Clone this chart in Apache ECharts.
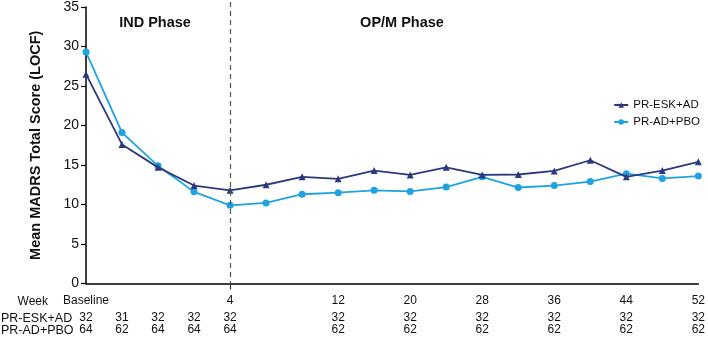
<!DOCTYPE html>
<html>
<head>
<meta charset="utf-8">
<script src="https://cdn.jsdelivr.net/npm/echarts@6/dist/echarts.min.js"></script>
<style>
html,body{margin:0;padding:0;background:#fff;}
#chart{width:708px;height:337px;}
</style>
</head>
<body>
<div id="chart"></div>
<script>
// Visit labels along the x axis (empty = unlabeled visit)
const weekLabels = ['Baseline','','','','4','','','12','','20','','28','','36','','44','','52'];
// Number of patients at each visit
const nEskAd = ['32','31','32','32','32','','','32','','32','','32','','32','','32','','32'];
const nAdPbo = ['64','62','64','64','64','','','62','','62','','62','','62','','62','','62'];
// Mean MADRS total score (LOCF)
const eskAd = [26.5, 17.6, 14.7, 12.4, 11.8, 12.5, 13.5, 13.25, 14.3, 13.75, 14.7, 13.75, 13.8, 14.25, 15.6, 13.5, 14.3, 15.4];
const adPbo = [29.3, 19.1, 14.9, 11.6, 9.9, 10.2, 11.3, 11.5, 11.8, 11.65, 12.2, 13.5, 12.15, 12.4, 12.9, 13.9, 13.3, 13.6];
const seriesNames = ['PR-ESK+AD', 'PR-AD+PBO'];
const yTicks = {min: 0, max: 35, interval: 5};
const phaseBoundaryIndex = 4;

const FONT = 'Liberation Sans, Arial, sans-serif';
const keys = weekLabels.map((_, i) => String(i));

function tableAxis(labels, offset) {
  return {
    type: 'category', data: keys, boundaryGap: false, position: 'bottom', offset: offset,
    axisLine: {show: false}, axisTick: {show: false}, splitLine: {show: false},
    axisLabel: {interval: 0, margin: 11, color: '#111', fontSize: 12, fontFamily: FONT,
      formatter: (v, i) => labels[i]}
  };
}

const chart = echarts.init(document.getElementById('chart'), null, {renderer: 'canvas'});
chart.setOption({
  animation: false,
  backgroundColor: '#fff',
  textStyle: {fontFamily: FONT},
  grid: {left: 86, right: 7, top: 5, bottom: 53.5, containLabel: false},
  legend: {
    orient: 'vertical', right: 8, top: 99, padding: 0, itemGap: 5, itemWidth: 14, itemHeight: 7,
    textStyle: {fontSize: 11.5, color: '#111', fontFamily: FONT},
    data: seriesNames
  },
  xAxis: [
    {
      type: 'category', data: keys, boundaryGap: false,
      axisLine: {show: true, lineStyle: {color: '#000', width: 1.5}},
      axisTick: {show: true, length: 6, interval: (i) => i === phaseBoundaryIndex,
        lineStyle: {color: '#333', width: 1.2}},
      splitLine: {show: false},
      axisLabel: {interval: 0, margin: 11, color: '#111', fontSize: 12, fontFamily: FONT,
        formatter: (v, i) => weekLabels[i]}
    },
    tableAxis(nEskAd, 17),
    tableAxis(nAdPbo, 29)
  ],
  yAxis: {
    type: 'value', min: yTicks.min, max: yTicks.max, interval: yTicks.interval,
    name: 'Mean MADRS Total Score (LOCF)', nameLocation: 'middle', nameGap: 43,
    nameTextStyle: {fontSize: 14.5, fontWeight: 'bold', color: '#111', fontFamily: FONT},
    axisLine: {show: true, lineStyle: {color: '#000', width: 1.5}},
    axisTick: {show: true, length: 5, lineStyle: {color: '#000', width: 1.2}},
    splitLine: {show: false},
    axisLabel: {fontSize: 14, color: '#111', margin: 7, fontFamily: FONT}
  },
  graphic: [
    {type: 'text', x: 48, y: 302, style: {text: 'Week', fill: '#111', font: '12px ' + FONT, textAlign: 'right', textVerticalAlign: 'middle'}},
    {type: 'text', x: 1, y: 319, style: {text: 'PR-ESK+AD', fill: '#111', font: '12.5px ' + FONT, textAlign: 'left', textVerticalAlign: 'middle'}},
    {type: 'text', x: 1, y: 331, style: {text: 'PR-AD+PBO', fill: '#111', font: '12.5px ' + FONT, textAlign: 'left', textVerticalAlign: 'middle'}},
    {type: 'text', x: 155, y: 23, style: {text: 'IND Phase', fill: '#111', font: 'bold 14.5px ' + FONT, textAlign: 'center', textVerticalAlign: 'middle'}},
    {type: 'text', x: 402, y: 23, style: {text: 'OP/M Phase', fill: '#111', font: 'bold 14.5px ' + FONT, textAlign: 'center', textVerticalAlign: 'middle'}}
  ],
  series: [
    {
      name: seriesNames[0], type: 'line', data: eskAd,
      symbol: 'triangle', symbolSize: 7, showAllSymbol: true,
      itemStyle: {color: '#2B3A7C'}, lineStyle: {color: '#2B3A7C', width: 1.8},
      z: 3,
      markLine: {
        silent: true, symbol: ['none', 'none'], label: {show: false},
        lineStyle: {color: '#555', type: [5, 4], width: 1.2},
        data: [[{xAxis: String(phaseBoundaryIndex), y: 2}, {xAxis: String(phaseBoundaryIndex), yAxis: 0}]]
      }
    },
    {
      name: seriesNames[1], type: 'line', data: adPbo,
      symbol: 'circle', symbolSize: 7, showAllSymbol: true,
      itemStyle: {color: '#1FA3E0'}, lineStyle: {color: '#1FA3E0', width: 1.8},
      z: 2
    }
  ]
});
</script>
</body>
</html>
